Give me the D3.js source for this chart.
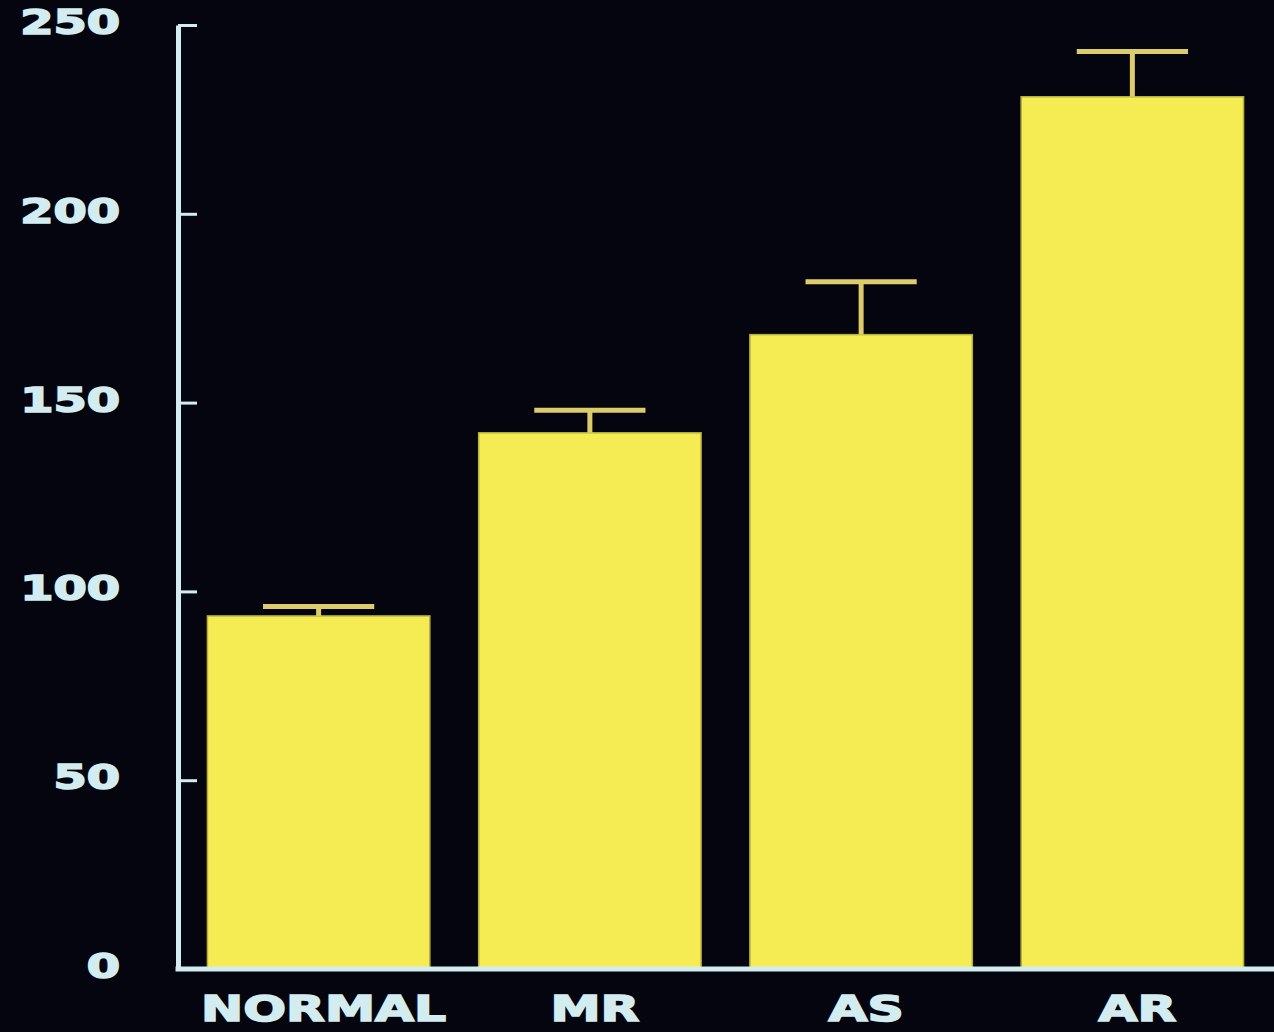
<!DOCTYPE html>
<html>
<head>
<meta charset="utf-8">
<script src="https://cdn.jsdelivr.net/npm/d3@7"></script>
<style>
  html, body { margin: 0; padding: 0; background: #05050f; }
  svg { display: block; }
</style>
</head>
<body>
<svg id="chart" width="1274" height="1032"></svg>
<script>
// Group means with the upper end of each error bar
const categories = ["NORMAL", "MR", "AS", "AR"];
const means = [93.5, 142, 168, 231];
const upperErrors = [96, 148, 182, 243];
const yTicks = [0, 50, 100, 150, 200, 250];

const W = 1274, H = 1032;
const svg = d3.select("#chart");

const axisColor = "#d3ecef";
const barColor = "#f4ec52";
const errColor = "#ddcc6c";

svg.append("rect").attr("width", W).attr("height", H).attr("fill", "#05050f");

const axisX = 178, baseY = 969;

const y = d3.scaleLinear().domain([0, 250]).range([baseY, 25]);
const x = d3.scaleBand()
  .domain(categories)
  .range([183, 1268])
  .paddingInner(0.18)
  .paddingOuter(0.09);

// Bars
const data = categories.map((c, i) => ({ c, m: means[i], e: upperErrors[i] }));
svg.append("g").selectAll("rect")
  .data(data)
  .join("rect")
  .attr("x", d => x(d.c))
  .attr("y", d => y(d.m))
  .attr("width", x.bandwidth())
  .attr("height", d => y(0) - y(d.m))
  .attr("fill", barColor)
  .attr("stroke", "#b8b03c")
  .attr("stroke-width", 1.5);

// Error bars (upper only)
const eb = svg.append("g").attr("stroke", errColor).attr("stroke-linecap", "butt");
eb.selectAll("line.stem")
  .data(data)
  .join("line")
  .attr("class", "stem")
  .attr("x1", d => x(d.c) + x.bandwidth() / 2)
  .attr("x2", d => x(d.c) + x.bandwidth() / 2)
  .attr("y1", d => y(d.m))
  .attr("y2", d => y(d.e))
  .attr("stroke-width", 5);
eb.selectAll("line.cap")
  .data(data)
  .join("line")
  .attr("class", "cap")
  .attr("x1", d => x(d.c) + x.bandwidth() * 0.25)
  .attr("x2", d => x(d.c) + x.bandwidth() * 0.75)
  .attr("y1", d => y(d.e))
  .attr("y2", d => y(d.e))
  .attr("stroke-width", 5);

// Y axis with inward ticks
const yAxis = d3.axisLeft(y)
  .tickValues(yTicks)
  .tickSizeInner(-19)
  .tickSizeOuter(0)
  .tickPadding(58)
  .tickFormat(d3.format("d"));

const gy = svg.append("g")
  .attr("transform", `translate(${axisX},0)`)
  .call(yAxis);
gy.select(".domain").attr("stroke", axisColor).attr("stroke-width", 5);
gy.selectAll(".tick line").attr("stroke", axisColor).attr("stroke-width", 3);
gy.selectAll(".tick text")
  .attr("x", 0)
  .attr("dy", "0.26em")
  .attr("transform", "translate(-58,0) scale(1.45,1)")
  .attr("fill", axisColor)
  .attr("stroke", axisColor)
  .attr("stroke-width", 1.6)
  .attr("font-family", "'DejaVu Sans', sans-serif")
  .attr("font-weight", "bold")
  .attr("font-size", 33)
  .attr("text-anchor", "end");

// Baseline
svg.append("line")
  .attr("x1", axisX - 2.5).attr("x2", W)
  .attr("y1", y(0)).attr("y2", y(0))
  .attr("stroke", axisColor).attr("stroke-width", 5);

// Category labels
svg.append("g").selectAll("text")
  .data(categories)
  .join("text")
  .attr("transform", d => `translate(${x(d) + x.bandwidth() / 2 + 5},1021) scale(1.4,1)`)
  .attr("text-anchor", "middle")
  .attr("fill", axisColor)
  .attr("stroke", axisColor)
  .attr("stroke-width", 1.6)
  .attr("font-family", "'DejaVu Sans', sans-serif")
  .attr("font-weight", "bold")
  .attr("font-size", 36)
  .text(d => d);
</script>
</body>
</html>
